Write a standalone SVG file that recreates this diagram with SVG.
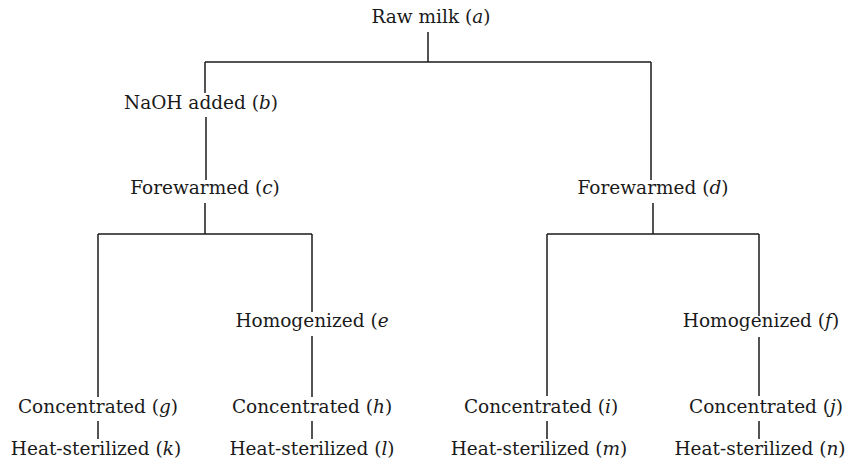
<svg xmlns="http://www.w3.org/2000/svg" width="857" height="461" viewBox="0 0 857 461">
  <style>
    .lbl { font-family: 'DejaVu Serif', 'Liberation Serif', serif; font-size: 18.5px; fill: #1a1a1a; text-anchor: middle; }
    .v { font-style: italic; }
    .link { stroke: #1a1a1a; stroke-width: 1.5; fill: none; }
  </style>
  <rect width="857" height="461" fill="#ffffff"/>

  <!-- connectors -->
  <g id="connectors" class="link">
    <path d="M428,32 V62"/>
    <path d="M205,62 H651"/>
    <path d="M205,62 V93"/>
    <path d="M206,117 V180"/>
    <path d="M651,62 V180"/>
    <path d="M205,203 V234"/>
    <path d="M98,234 H312"/>
    <path d="M98,234 V397"/>
    <path d="M312,234 V312"/>
    <path d="M312,336 V397"/>
    <path d="M653,203 V234"/>
    <path d="M547,234 H759"/>
    <path d="M547,234 V396"/>
    <path d="M759,234 V316"/>
    <path d="M759,337 V396"/>
    <path d="M98,421 V439"/>
    <path d="M312,421 V439"/>
    <path d="M547,421 V439"/>
    <path d="M759,421 V439"/>
  </g>

  <!-- nodes -->
  <g class="lbl">
    <g id="node-a"><text x="431" y="23">Raw milk (<tspan class="v">a</tspan>)</text></g>
    <g id="node-b"><text x="201" y="109">NaOH added (<tspan class="v">b</tspan>)</text></g>
    <g id="node-c"><text x="205" y="194">Forewarmed (<tspan class="v">c</tspan>)</text></g>
    <g id="node-d"><text x="653" y="194">Forewarmed (<tspan class="v">d</tspan>)</text></g>
    <g id="node-e"><text x="312" y="327">Homogenized (<tspan class="v">e</tspan></text></g>
    <g id="node-f"><text x="761" y="327">Homogenized (<tspan class="v">f</tspan>)</text></g>
    <g id="node-g"><text x="98" y="413">Concentrated (<tspan class="v">g</tspan>)</text></g>
    <g id="node-h"><text x="312" y="413">Concentrated (<tspan class="v">h</tspan>)</text></g>
    <g id="node-i"><text x="541" y="413">Concentrated (<tspan class="v">i</tspan>)</text></g>
    <g id="node-j"><text x="766" y="413">Concentrated (<tspan class="v">j</tspan>)</text></g>
    <g id="node-k"><text x="96" y="455">Heat-sterilized (<tspan class="v">k</tspan>)</text></g>
    <g id="node-l"><text x="312" y="455">Heat-sterilized (<tspan class="v">l</tspan>)</text></g>
    <g id="node-m"><text x="539" y="455">Heat-sterilized (<tspan class="v">m</tspan>)</text></g>
    <g id="node-n"><text x="760" y="455">Heat-sterilized (<tspan class="v">n</tspan>)</text></g>
  </g>
</svg>
